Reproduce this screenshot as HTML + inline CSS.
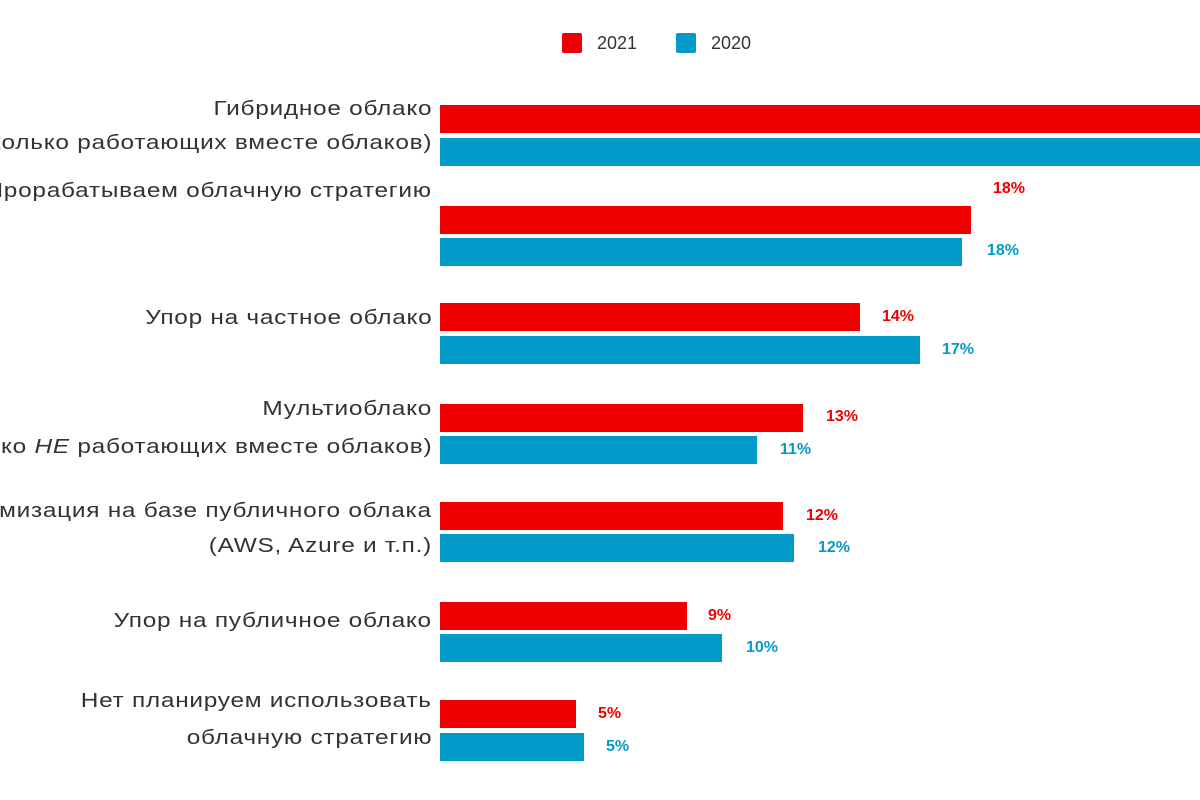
<!DOCTYPE html>
<html><head><meta charset="utf-8"><style>
body{margin:0;width:1200px;height:800px;background:#fff;position:relative;overflow:hidden;font-family:"Liberation Sans",sans-serif}
.b{position:absolute;left:440px;height:28px}
.r{background:#ee0000}
.u{background:#0399c9}
.c{position:absolute;right:768px;white-space:nowrap;font-size:20px;color:#333;letter-spacing:0.6px;line-height:20px;transform-origin:right center;transform:translateY(-9px) scaleX(1.22)}
.v{position:absolute;font-size:16px;font-weight:bold;line-height:16px;transform:translateY(-8px)}
.vr{color:#ee0000}.vu{color:#0399c9}
.lg{position:absolute;top:33px;width:20px;height:20px;border-radius:2px}
.lt{position:absolute;top:33px;font-size:18px;color:#333;line-height:20px}
</style></head><body>
<div class="lg" style="left:562px;background:#ee0000"></div><div class="lt" style="left:597px">2021</div>
<div class="lg" style="left:676px;background:#0399c9"></div><div class="lt" style="left:711px">2020</div>

<div class="b r" style="top:105px;width:770px"></div><div class="b u" style="top:138px;width:770px"></div>
<div class="b r" style="top:206px;width:531px"></div><div class="b u" style="top:238px;width:522px"></div>
<div class="b r" style="top:303px;width:420px"></div><div class="b u" style="top:336px;width:480px"></div>
<div class="b r" style="top:404px;width:363px"></div><div class="b u" style="top:436px;width:317px"></div>
<div class="b r" style="top:502px;width:343px"></div><div class="b u" style="top:534px;width:354px"></div>
<div class="b r" style="top:602px;width:247px"></div><div class="b u" style="top:634px;width:282px"></div>
<div class="b r" style="top:700px;width:136px"></div><div class="b u" style="top:733px;width:144px"></div>

<div class="v vr" style="left:993px;top:189px">18%</div><div class="v vu" style="left:987px;top:251px">18%</div>
<div class="v vr" style="left:882px;top:317px">14%</div><div class="v vu" style="left:942px;top:350px">17%</div>
<div class="v vr" style="left:826px;top:417px">13%</div><div class="v vu" style="left:780px;top:450px">11%</div>
<div class="v vr" style="left:806px;top:516px">12%</div><div class="v vu" style="left:818px;top:548px">12%</div>
<div class="v vr" style="left:708px;top:616px">9%</div><div class="v vu" style="left:746px;top:648px">10%</div>
<div class="v vr" style="left:598px;top:714px">5%</div><div class="v vu" style="left:606px;top:747px">5%</div>

<div class="c" style="top:108px">Гибридное облако</div>
<div class="c" style="top:142px">(Несколько работающих вместе облаков)</div>
<div class="c" style="top:190px">Прорабатываем облачную стратегию</div>
<div class="c" style="top:317px">Упор на частное облако</div>
<div class="c" style="top:408px">Мультиоблако</div>
<div class="c" style="top:446px">(Несколько <i>НЕ</i> работающих вместе облаков)</div>
<div class="c" style="top:510px">Оптимизация на базе публичного облака</div>
<div class="c" style="top:545px">(AWS, Azure и т.п.)</div>
<div class="c" style="top:620px">Упор на публичное облако</div>
<div class="c" style="top:700px">Нет планируем использовать</div>
<div class="c" style="top:737px">облачную стратегию</div>
</body></html>
